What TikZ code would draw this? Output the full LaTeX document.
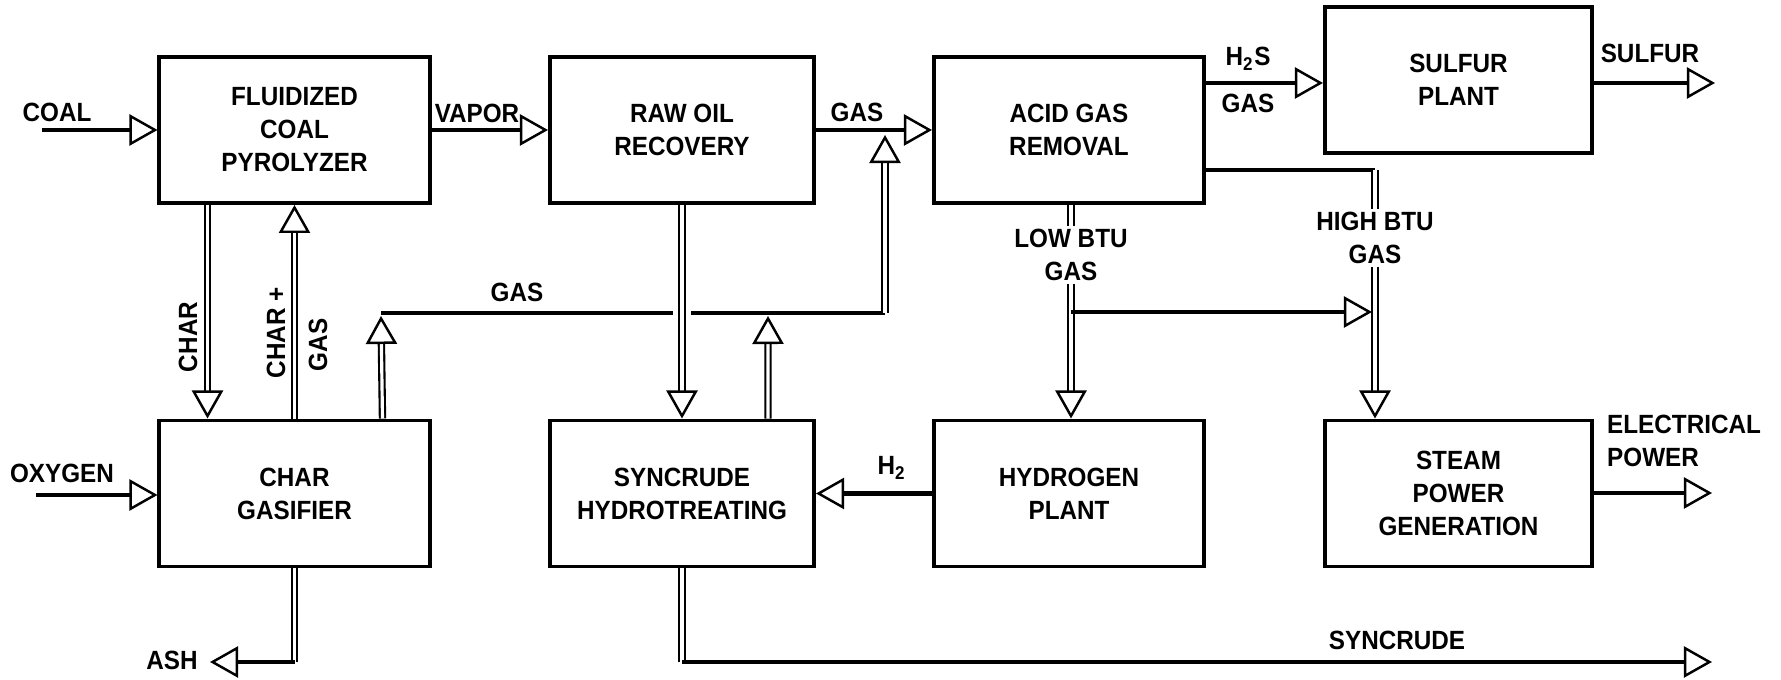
\documentclass[tikz,border=0pt]{standalone}
\usepackage{fontspec}
\newfontfamily\plantfont{Liberation Sans}[FakeStretch=0.92]
\usetikzlibrary{arrows.meta}
\tikzset{
  unitbox/.style={
    draw,
    line width=1.1pt,
    minimum width=2.7cm,
    minimum height=1.46cm,
    align=center,
    font=\plantfont\bfseries\fontsize{7.5}{9.4}\selectfont,
    inner sep=2pt
  },
  streamlabel/.style={
    align=center,
    font=\plantfont\bfseries\fontsize{7.5}{9.4}\selectfont,
    inner sep=1pt
  },
  flowline/.style={
    line width=1.4pt,
    -{Triangle[open,length=2.8mm,width=3.1mm,line width=0.7pt]}
  },
  plainflow/.style={line width=1.4pt},
  pipeline/.style={
    double,
    line width=0.6pt,
    double distance=0.9pt,
    -{Triangle[open,length=2.8mm,width=3.1mm,line width=0.7pt]}
  },
  plainpipe/.style={double, line width=0.6pt, double distance=0.9pt}
}

\begin{document}
\begin{tikzpicture}[x=0.01cm,y=-0.01cm]
  \useasboundingbox (0,0) rectangle (1781,680);
  % process units
  \node[unitbox] (pyro) at (294.5,130) {FLUIDIZED\\COAL\\PYROLYZER};
  \node[unitbox, minimum width=2.64cm] (rawoil) at (682,130) {RAW OIL\\RECOVERY};
  \node[unitbox] (acid) at (1069,130) {ACID GAS\\REMOVAL};
  \node[unitbox, minimum width=2.67cm] (sulfur) at (1458.5,80) {SULFUR\\PLANT};
  \node[unitbox] (gasif) at (294.5,493.5) {CHAR\\GASIFIER};
  \node[unitbox, minimum width=2.64cm] (hydrot) at (682,493.5) {SYNCRUDE\\HYDROTREATING};
  \node[unitbox] (h2plant) at (1069,493.5) {HYDROGEN\\PLANT};
  \node[unitbox, minimum width=2.67cm] (steam) at (1458.5,493.5) {STEAM\\POWER\\GENERATION};

  % free ends and bends
  \coordinate (coalin) at (42,130);
  \coordinate (oxyin) at (36,495);
  \coordinate (sulfout) at (1715,83);
  \coordinate (powout) at (1712,493);
  \coordinate (ashbend) at (294.5,662);
  \coordinate (ashout) at (210,662);
  \coordinate (crudebend) at (682,662);
  \coordinate (crudeout) at (1712,662);
  \coordinate (gasL) at (381,313);
  \coordinate (gapL) at (673,313);
  \coordinate (gapR) at (691,313);
  \coordinate (gasR) at (885,313);
  \coordinate (hydrojoin) at (768,316);
  \coordinate (highbend) at (1375,170);
  \coordinate (lowjoin) at (1071,312);
  \coordinate (highjoin) at (1372,312);

  % streams
  \draw[flowline] (coalin) -- (coalin -| pyro.west);
  \draw[flowline] (pyro.east) -- (rawoil.west);
  \draw[flowline] (rawoil.east) -- (acid.west);
  \draw[flowline] (acid.east |- sulfout) -- (sulfur.west |- sulfout);
  \draw[flowline] (sulfur.east |- sulfout) -- (sulfout);
  \draw[plainflow] (acid.east |- highbend) -- (highbend);
  \draw[pipeline] (highbend) -- (steam.north -| highbend);
  \draw[pipeline] (acid.south -| lowjoin) -- (h2plant.north -| lowjoin);
  \draw[flowline] (lowjoin) -- (highjoin);
  \draw[pipeline] ([xshift=0.5cm]pyro.south west) -- ([xshift=0.5cm]gasif.north west);
  \draw[pipeline] (gasif.north) -- (pyro.south);
  \draw[pipeline] ([xshift=-0.49cm]gasif.north east) -- ([yshift=-0.03cm]gasL);
  \draw[plainflow] (gasL) -- (gapL);
  \draw[plainflow] (gapR) -- (gasR);
  \draw[pipeline] (gasR) -- ([yshift=-0.05cm]gasR |- rawoil.east);
  \draw[pipeline] (rawoil.south) -- (hydrot.north);
  \draw[pipeline] ([xshift=0.86cm]hydrot.north) -- (hydrojoin);
  \draw[flowline] (h2plant.west) -- (hydrot.east);
  \draw[flowline] (oxyin) -- (oxyin -| gasif.west);
  \draw[flowline] (steam.east |- powout) -- (powout);
  \draw[plainpipe] (gasif.south) -- (ashbend);
  \draw[flowline] (ashbend) -- (ashout);
  \draw[plainpipe] (hydrot.south) -- (crudebend);
  \draw[flowline] (crudebend) -- (crudeout);

  % stream labels
  \node[streamlabel] (coallbl) at (57,112) {COAL};
  \node[streamlabel] (vaporlbl) at (477,113) {VAPOR};
  \node[streamlabel] (gaslbl) at (857,112) {GAS};
  \node[streamlabel] (hslbl) at (1248,59) {H\textsubscript{2}S};
  \node[streamlabel] (hsgaslbl) at (1248,103) {GAS};
  \node[streamlabel] (sulfurlbl) at (1650,53) {SULFUR};
  \node[streamlabel, fill=white] (highlbl) at (1375,238) {HIGH BTU\\GAS};
  \node[streamlabel, fill=white] (lowlbl) at (1071,255) {LOW BTU\\GAS};
  \node[streamlabel, rotate=90] (charlbl) at (188,337) {CHAR};
  \node[streamlabel, rotate=90] (charpluslbl) at (276,333) {CHAR +};
  \node[streamlabel, rotate=90] (chargaslbl) at (318,345) {GAS};
  \node[streamlabel] (recyclelbl) at (517,292) {GAS};
  \node[streamlabel] (oxylbl) at (62,473) {OXYGEN};
  \node[streamlabel] (h2lbl) at (892,468) {H\textsubscript{2}};
  \node[streamlabel, align=left, anchor=west] (powerlbl) at (1603,441) {ELECTRICAL\\POWER};
  \node[streamlabel] (ashlbl) at (172,660) {ASH};
  \node[streamlabel] (crudelbl) at (1397,640) {SYNCRUDE};
\end{tikzpicture}
\end{document}
